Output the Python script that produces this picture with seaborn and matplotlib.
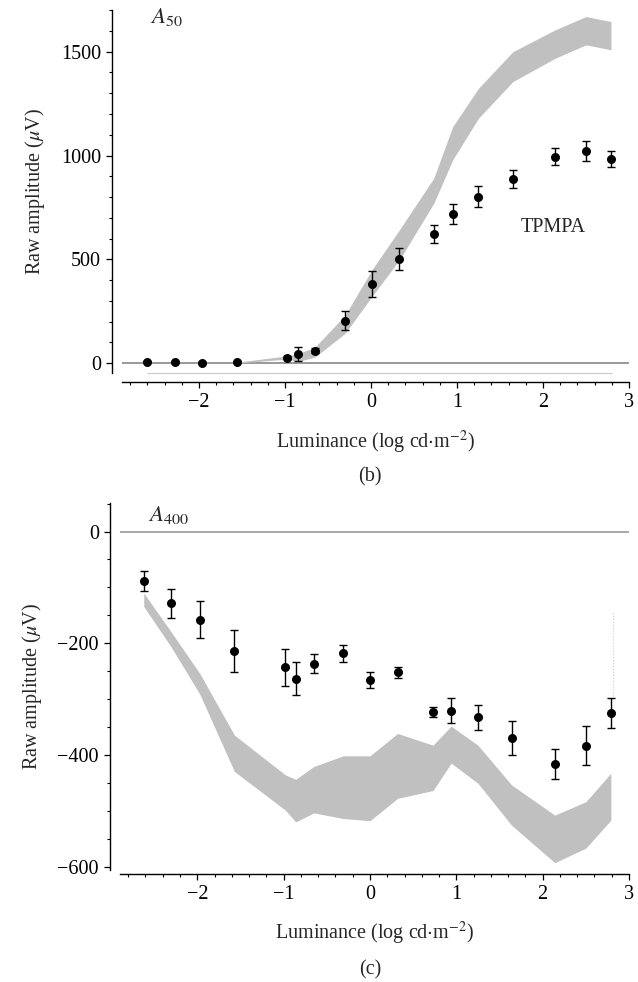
import numpy as np
import pandas as pd
import matplotlib
matplotlib.use("Agg")
import matplotlib.pyplot as plt
import seaborn as sns
from matplotlib.ticker import MultipleLocator

# --- data ---
# panel (b): A50, TPMPA
lum_b = [-2.60, -2.28, -1.96, -1.56, -0.98, -0.85, -0.65, -0.30, 0.01, 0.33,
         0.73, 0.95, 1.25, 1.65, 2.14, 2.50, 2.79]
amp_b = [8, 5, 0, 8, 27, 45, 59, 204, 380, 501, 621, 720, 801, 887, 995, 1022, 984]
err_b = [4, 4, 4, 4, 6, 33, 12, 46, 63, 52, 44, 48, 50, 43, 40, 50, 37]

# control band (b)
band_x_b = [-1.56, -0.98, -0.85, -0.65, -0.30, 0.01, 0.33, 0.73, 0.95, 1.25,
            1.65, 2.14, 2.50, 2.79]
band_hi_b = [5, 35, 45, 78, 232, 449, 642, 891, 1139, 1324, 1500, 1605, 1669, 1645]
band_lo_b = [0, 20, 8, 30, 144, 321, 497, 770, 979, 1180, 1356, 1468, 1533, 1509]

# panel (c): A400
lum_c = [-2.62, -2.30, -1.97, -1.57, -0.98, -0.86, -0.65, -0.31, 0.00, 0.32,
         0.73, 0.94, 1.25, 1.64, 2.14, 2.50, 2.79]
amp_c = [-88, -128, -158, -214, -243, -263, -236, -218, -266, -252,
         -323, -320, -332, -369, -416, -383, -324]
err_c = [18, 26, 33, 38, 33, 30, 17, 16, 14, 10, 9, 23, 22, 30, 27, 35, 27]

# control band (c)
band_x_c = lum_c
band_hi_c = [-110, -180, -254, -364, -435, -443, -420, -401, -401, -361,
             -382, -348, -382, -453, -507, -483, -432]
band_lo_c = [-134, -207, -291, -429, -498, -519, -503, -513, -517, -477,
             -463, -414, -450, -525, -592, -566, -516]

sns.set_theme(style="ticks")
plt.rcParams['font.family'] = ['Liberation Serif', 'DejaVu Serif']
plt.rcParams['mathtext.fontset'] = 'stix'

BAND = '#c0c0c0'
FS = 14.5

fig = plt.figure(figsize=(6.38, 9.82), dpi=100)
ax_b = fig.add_axes([0.1912, 0.6202, 0.7947, 0.3697])
ax_c = fig.add_axes([0.1881, 0.1141, 0.7978, 0.3737])


def style_axis(ax, ylim, ymajor, yminor, yoff, xpad):
    ax.set_xlim(-2.895, 3.0)
    ax.set_ylim(*ylim)
    sns.despine(ax=ax)
    ax.spines['left'].set_position(('outward', 7.2))
    ax.spines['bottom'].set_position(('outward', yoff))
    for s in ['left', 'bottom']:
        ax.spines[s].set_linewidth(1.0)
        ax.spines[s].set_color('black')
    ax.xaxis.set_major_locator(MultipleLocator(1))
    ax.xaxis.set_minor_locator(MultipleLocator(0.2))
    ax.yaxis.set_major_locator(MultipleLocator(ymajor))
    ax.yaxis.set_minor_locator(MultipleLocator(yminor))
    ax.tick_params(which='major', length=4, width=0.9, labelsize=FS, pad=4,
                   color='black', labelcolor='black')
    ax.tick_params(which='minor', length=2.4, width=0.8, color='black')
    ax.set_xticks([-2, -1, 0, 1, 2, 3])
    ax.set_xticklabels(['\u22122', '\u22121', '0', '1', '2', '3'])
    ax.set_xlabel(r'Luminance (log cd$\cdot$m$^{-2}$)', fontsize=FS, labelpad=xpad)
    ax.set_ylabel(r'Raw amplitude ($\mu$V)', fontsize=FS, labelpad=10)
    ax.set_facecolor('white')
    ax.grid(False)


# ---- panel (b) ----
ax_b.axhline(0, color='#999999', lw=1.4, zorder=1)
ax_b.hlines(-46, -2.6, 2.8, color='#c8c8c8', lw=0.8, zorder=1, clip_on=False)
ax_b.fill_between(band_x_b, band_lo_b, band_hi_b, color=BAND, lw=0, zorder=2)
ax_b.errorbar(lum_b, amp_b, yerr=err_b, fmt='none', ecolor='black',
              elinewidth=1.0, capsize=3, capthick=1.0, zorder=3)
sns.scatterplot(x=lum_b, y=amp_b, ax=ax_b, color='black', s=42,
                edgecolor='black', linewidth=0, zorder=4)
ax_b.text(-2.57, 1665, r'$A_{50}$', fontsize=16.5, va='center', ha='left')
ax_b.text(2.12, 651, 'TPMPA', fontsize=FS, va='center', ha='center')
style_axis(ax_b, (-47, 1701), 500, 100, 6.5, 12)
ax_b.set_yticks([0, 500, 1000, 1500])

# ---- panel (c) ----
ax_c.axhline(0, color='#999999', lw=1.2, zorder=1)
ax_c.fill_between(band_x_c, band_lo_c, band_hi_c, color=BAND, lw=0, zorder=2)
ax_c.vlines(2.81, -300, -143, color='#cccccc', lw=0.8, linestyles=':', zorder=2)
ax_c.errorbar(lum_c, amp_c, yerr=err_c, fmt='none', ecolor='black',
              elinewidth=1.0, capsize=3, capthick=1.0, zorder=3)
sns.scatterplot(x=lum_c, y=amp_c, ax=ax_c, color='black', s=42,
                edgecolor='black', linewidth=0, zorder=4)
ax_c.text(-2.57, 30, r'$A_{400}$', fontsize=16.5, va='center', ha='left')
style_axis(ax_c, (-605, 51), 200, 50, 3, 11)
ax_c.set_yticks([-600, -400, -200, 0])
ax_c.set_yticklabels(['\u2212600', '\u2212400', '\u2212200', '0'])

fig.text(0.58, 1 - 477 / 982, '(b)', fontsize=FS, ha='center', va='center')
fig.text(0.58, 1 - 970 / 982, '(c)', fontsize=FS, ha='center', va='center')

fig.savefig('out.png', dpi=100, facecolor='white')
